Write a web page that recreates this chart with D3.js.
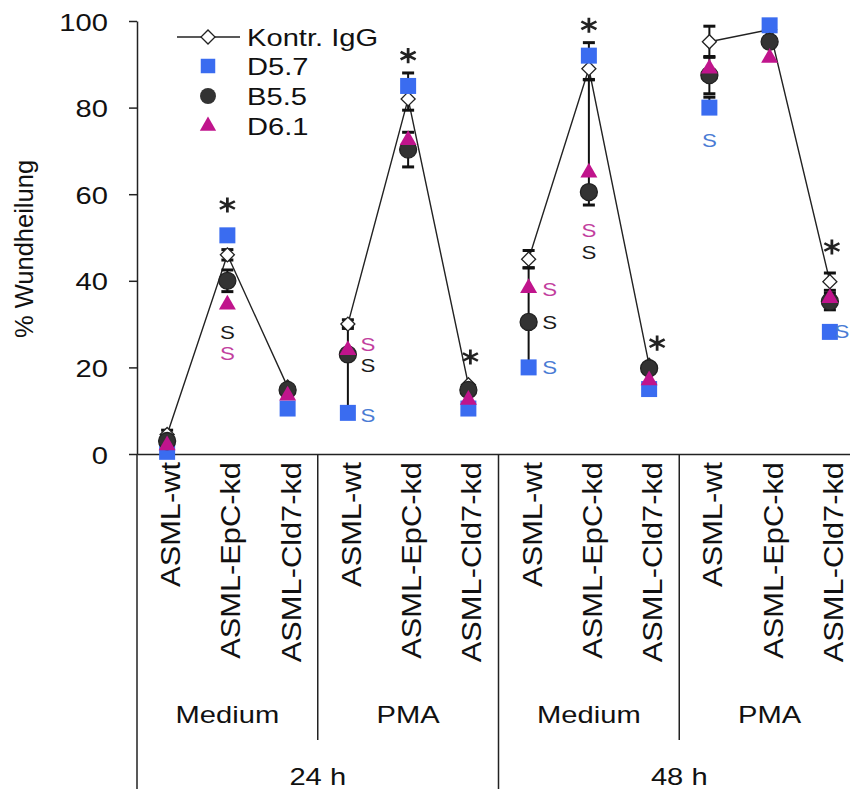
<!DOCTYPE html>
<html>
<head>
<meta charset="utf-8">
<script src="https://cdn.jsdelivr.net/npm/d3@7"></script>
<style>
  body { margin: 0; background: #fff; }
  text { font-family: "Liberation Sans", Arial, sans-serif; fill: #111; }
</style>
</head>
<body>
<div id="chart"></div>
<script>
// ---------- data ----------
const cellLines = ["ASML-wt", "ASML-EpC-kd", "ASML-Cld7-kd"];
const treatments = ["Medium", "PMA"];
const timePoints = ["24 h", "48 h"];
const yTicks = [0, 20, 40, 60, 80, 100];

// % Wundheilung, order: 24h Medium, 24h PMA, 48h Medium, 48h PMA (3 cell lines each)
const kontrIgG = [4.5, 46, 15.5, 30, 82, 16, 45, 89, 20.5, 95.2, 98, 39.8];
const d57 = [0.5, 50.5, 10.5, 9.5, 85, 10.5, 20, 92, 15, 80, 99, 28.2];
const b55 = [3, 40, 14.8, 23, 70.3, 14.8, 30.5, 60.5, 19.8, 87.5, 95.2, 35.2];
const d61 = [2, 34.5, 13.5, 24, 72.5, 12.5, 38.3, 65, 17, 89, 91.5, 36];

// error bars [minus, plus]
const kontrErr = [[1, 1], [1.2, 1.2], [0, 0], [1, 1], [2.6, 2.6], [0, 0], [2, 2], [2.6, 2.6], [0, 0], [3.6, 3.6], [0, 0], [2, 2]];
const d57Err = [[0, 0], [0, 0], [0, 0], [0, 20], [3, 3], [0, 0], [0, 23], [3, 3], [0, 0], [0, 2.4], [0, 0], [0, 0]];
const b55Err = [[0, 0], [2.5, 2.5], [0, 0], [0, 0], [4, 4], [0, 0], [0, 0], [3, 26], [0, 0], [4.3, 4.3], [0, 0], [1.9, 1.9]];
const d61Err = [[0, 0], [0, 0], [0, 0], [0, 0], [0, 0], [0, 0], [0, 0], [0, 0], [0, 0], [0, 0], [0, 0], [0, 0]];

// significance marks: [category index, value, series, x shift]
const sMarks = [
  [1, 28, "b55", 0], [1, 23.3, "d61", 0],
  [3, 25.4, "d61", 20], [3, 20.4, "b55", 20], [3, 9, "d57", 20],
  [6, 38, "d61", 21], [6, 30.3, "b55", 21], [6, 20, "d57", 21],
  [7, 51.7, "d61", 0], [7, 46.6, "b55", 0],
  [9, 72.5, "d57", 0],
  [11, 28.2, "d57", 12]
];
// asterisks: [category index, value, x shift]
const stars = [[1, 57.5, 0], [4, 92, 0], [5, 22.4, 2], [7, 99, 0], [8, 25.6, 8], [11, 47.8, 2]];

// ---------- layout ----------
const W = 850, H = 789;
const plotLeft = 137, plotRight = 860, plotTop = 21, plotBottom = 454;
const sx = 1.24; // horizontal stretch of the original lettering

const categories = [];
timePoints.forEach(t => treatments.forEach(tr => cellLines.forEach(c => categories.push(`${t}|${tr}|${c}`))));

const svg = d3.select("#chart").append("svg")
  .attr("width", W).attr("height", H);

const x = d3.scaleBand().domain(categories).range([plotLeft, plotRight]);
const y = d3.scaleLinear().domain([0, 100]).range([plotBottom, plotTop]);
const cx = i => x(categories[i]) + x.bandwidth() / 2;

const colors = { d57: "#3a6cf0", b55: "#333333", d61: "#c0148c" };
const sColors = { d57: "#4a7bd4", b55: "#1a1a1a", d61: "#c23e9e" };

function hText(g, px, py, str, size, anchor) {
  return g.append("text")
    .attr("transform", `translate(${px},${py}) scale(${sx},1)`)
    .attr("text-anchor", anchor || "start")
    .attr("font-size", size)
    .text(str);
}

// ---------- axes ----------
const yAxis = svg.append("g")
  .attr("transform", `translate(${plotLeft},0)`)
  .call(d3.axisLeft(y).tickValues(yTicks).tickSize(8).tickSizeOuter(0));
yAxis.select(".domain").attr("stroke", "#222").attr("stroke-width", 1.5);
yAxis.selectAll(".tick line").attr("stroke", "#222").attr("stroke-width", 1.5);
yAxis.selectAll(".tick text")
  .attr("x", 0).attr("dy", 9)
  .attr("font-size", 23.5)
  .attr("font-family", "Liberation Sans, Arial, sans-serif")
  .attr("transform", `translate(-29,0) scale(${sx},1)`);

const xAxis = svg.append("g")
  .attr("transform", `translate(0,${plotBottom})`)
  .call(d3.axisBottom(x).tickSize(0).tickFormat(""));
xAxis.select(".domain").attr("stroke", "#222").attr("stroke-width", 1.5);

// y title
svg.append("text")
  .attr("transform", "translate(33,249) rotate(-90) scale(1.02,1)")
  .attr("text-anchor", "middle")
  .attr("font-size", 25)
  .text("% Wundheilung");

// separators below the axis
const step = x.step();
d3.range(0, categories.length + 1, 3).forEach(i => {
  const px = plotLeft + i * step;
  const outer = i % 6 === 0;
  svg.append("line")
    .attr("x1", px).attr("x2", px)
    .attr("y1", plotBottom).attr("y2", outer ? H : 740)
    .attr("stroke", "#222").attr("stroke-width", 1.5);
});

// category labels
categories.forEach((c, i) => {
  svg.append("text")
    .attr("transform", `translate(${cx(i) + 13},462) rotate(-90) scale(1.1,1)`)
    .attr("text-anchor", "end")
    .attr("font-size", 28)
    .text(c.split("|")[2]);
});

// treatment and time labels
timePoints.forEach((t, ti) => {
  treatments.forEach((tr, ri) => {
    const i0 = ti * 6 + ri * 3;
    hText(svg, plotLeft + (i0 + 1.5) * step, 723, tr, 23.5, "middle");
  });
  hText(svg, plotLeft + (ti * 6 + 3) * step, 785, t, 23.5, "middle");
});

// ---------- marks ----------
const diamond = d3.symbol(d3.symbolSquare, 98)();
const square = d3.symbol(d3.symbolSquare, 256)();
const circle = d3.symbol(d3.symbolCircle, 227)();
const triangle = d3.symbol(d3.symbolTriangle, 125)();

// control line, connected within each group of three
const line = d3.line().x(d => cx(d)).y(d => y(kontrIgG[d]));
for (let g = 0; g < 4; g++) {
  svg.append("path")
    .datum([g * 3, g * 3 + 1, g * 3 + 2])
    .attr("fill", "none")
    .attr("stroke", "#222")
    .attr("stroke-width", 1.4)
    .attr("d", line);
}

// error bars
function errorBars(vals, errs) {
  vals.forEach((v, i) => {
    const [lo, hi] = errs[i];
    if (lo === 0 && hi === 0) return;
    const px = cx(i);
    svg.append("line")
      .attr("x1", px).attr("x2", px)
      .attr("y1", y(v - lo)).attr("y2", y(v + hi))
      .attr("stroke", "#111").attr("stroke-width", 2);
    [[lo, v - lo], [hi, v + hi]].forEach(([e, end]) => {
      if (e === 0) return;
      svg.append("line")
        .attr("x1", px - 6).attr("x2", px + 6)
        .attr("y1", y(end)).attr("y2", y(end))
        .attr("stroke", "#111").attr("stroke-width", 3);
    });
  });
}
errorBars(kontrIgG, kontrErr);
errorBars(d57, d57Err);
errorBars(b55, b55Err);
errorBars(d61, d61Err);

function markers(vals, path, fill, stroke, rot) {
  svg.append("g").selectAll("path")
    .data(vals)
    .join("path")
    .attr("d", path)
    .attr("transform", (d, i) => `translate(${cx(i)},${y(d)})${rot ? " rotate(45)" : ""}`)
    .attr("fill", fill)
    .attr("stroke", stroke)
    .attr("stroke-width", 1.3);
}
markers(kontrIgG, diamond, "#fff", "#222", true);
markers(d57, square, colors.d57, "none");
markers(b55, circle, colors.b55, "#222");
markers(d61, triangle, colors.d61, "none");

// S marks
sMarks.forEach(([i, v, s, dx]) => {
  hText(svg, cx(i) + dx, y(v) + 6.5, "S", 18, "middle").style("fill", sColors[s]);
});

// asterisks
stars.forEach(([i, v, dx]) => {
  svg.append("path")
    .attr("d", d3.symbol(d3.symbolAsterisk, 160)())
    .attr("transform", `translate(${cx(i) + dx},${y(v)}) scale(1.15,1)`)
    .attr("fill", "none")
    .attr("stroke", "#222")
    .attr("stroke-width", 2.4);
});

// ---------- legend ----------
const legend = svg.append("g");
legend.append("line")
  .attr("x1", 177).attr("x2", 240).attr("y1", 37).attr("y2", 37)
  .attr("stroke", "#222").attr("stroke-width", 1.4);
legend.append("path").attr("d", diamond)
  .attr("transform", "translate(208,37) rotate(45)")
  .attr("fill", "#fff").attr("stroke", "#222").attr("stroke-width", 1.3);
legend.append("path").attr("d", d3.symbol(d3.symbolSquare, 210)())
  .attr("transform", "translate(208,66)").attr("fill", colors.d57);
legend.append("path").attr("d", d3.symbol(d3.symbolCircle, 200)())
  .attr("transform", "translate(208,96)").attr("fill", colors.b55);
legend.append("path").attr("d", d3.symbol(d3.symbolTriangle, 115)())
  .attr("transform", "translate(208,126)").attr("fill", colors.d61);
["Kontr. IgG", "D5.7", "B5.5", "D6.1"].forEach((t, i) => {
  hText(legend, 247, 37 + i * 29.8 + 8.5, t, 23.5);
});
</script>
</body>
</html>
